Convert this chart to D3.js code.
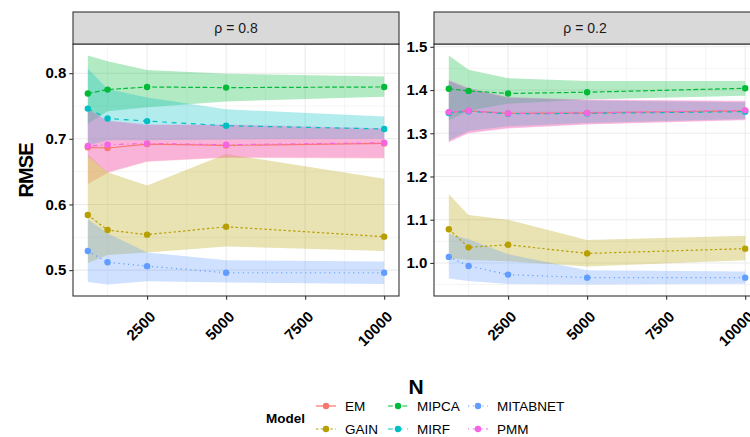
<!DOCTYPE html>
<html>
<head>
<meta charset="utf-8">
<script src="https://cdn.jsdelivr.net/npm/d3@7"></script>
<style>
  html, body { margin: 0; padding: 0; background: #fff; }
  svg { display: block; font-family: 'Liberation Sans', Arial, sans-serif; }
</style>
</head>
<body>
<svg id="chart"></svg>
<script>
'use strict'

// sample sizes and models
const sizes = [625, 1250, 2500, 5000, 10000]
const models = ['EM', 'GAIN', 'MIPCA', 'MIRF', 'MITABNET', 'PMM']
const xTicks = [2500, 5000, 7500, 10000]
const facets = ['ρ = 0.8', 'ρ = 0.2']

// rho = 0.8 : mean, lower and upper band (rows follow models)
const mean08 = [
  [0.687, 0.686, 0.692, 0.690, 0.693],
  [0.584, 0.561, 0.554, 0.566, 0.551],
  [0.769, 0.775, 0.779, 0.778, 0.779],
  [0.746, 0.731, 0.727, 0.720, 0.715],
  [0.529, 0.512, 0.506, 0.496, 0.496],
  [0.689, 0.691, 0.693, 0.691, 0.694]
]
const lo08 = [
  [0.631, 0.648, 0.665, 0.671, 0.670],
  [0.511, 0.523, 0.527, 0.536, 0.529],
  [0.723, 0.742, 0.748, 0.757, 0.764],
  [0.690, 0.698, 0.698, 0.699, 0.700],
  [0.482, 0.478, 0.483, 0.481, 0.479],
  [0.673, 0.649, 0.666, 0.672, 0.671]
]
const hi08 = [
  [0.744, 0.727, 0.721, 0.721, 0.715],
  [0.676, 0.649, 0.629, 0.677, 0.639],
  [0.827, 0.818, 0.805, 0.799, 0.795],
  [0.807, 0.776, 0.763, 0.745, 0.734],
  [0.577, 0.556, 0.527, 0.515, 0.513],
  [0.746, 0.728, 0.722, 0.722, 0.716]
]

// rho = 0.2
const mean02 = [
  [1.348, 1.352, 1.346, 1.347, 1.352],
  [1.078, 1.036, 1.042, 1.022, 1.033],
  [1.403, 1.398, 1.392, 1.395, 1.404],
  [1.347, 1.351, 1.345, 1.346, 1.350],
  [1.014, 0.993, 0.973, 0.966, 0.966],
  [1.349, 1.352, 1.346, 1.347, 1.353]
]
const lo02 = [
  [1.280, 1.301, 1.312, 1.321, 1.331],
  [1.011, 1.007, 1.004, 0.992, 1.006],
  [1.330, 1.352, 1.368, 1.378, 1.387],
  [1.283, 1.305, 1.316, 1.324, 1.333],
  [0.964, 0.958, 0.951, 0.950, 0.952],
  [1.279, 1.300, 1.311, 1.320, 1.330]
]
const hi02 = [
  [1.422, 1.404, 1.383, 1.377, 1.374],
  [1.159, 1.111, 1.100, 1.053, 1.063],
  [1.480, 1.447, 1.427, 1.421, 1.421],
  [1.420, 1.402, 1.382, 1.376, 1.372],
  [1.067, 1.055, 1.020, 0.983, 0.980],
  [1.423, 1.405, 1.384, 1.378, 1.375]
]

const width = 750
const height = 437
const plotTop = 44
const plotBottom = 296
const stripTop = 12
const panelX = [[73, 399], [434, 760]]
const series = [[mean08, lo08, hi08], [mean02, lo02, hi02]]
const font = "'Liberation Sans', Arial, sans-serif"

const color = d3.scaleOrdinal().domain(models)
  .range(['#F8766D', '#B79F00', '#00BA38', '#00BFC4', '#619CFF', '#F564E3'])
const dash = d3.scaleOrdinal().domain(models)
  .range(['none', '2.4,2.4', '4.8,2.4', '4.8,4.8', '1.2,3.6', '1.2,3.6,4.8,3.6'])

const svg = d3.select('#chart')
  .attr('width', width)
  .attr('height', height)
  .attr('viewBox', `0 0 ${width} ${height}`)

// ggplot-like expanded domain
function expand (lo, hi) {
  const pad = (hi - lo) * 0.05
  return [lo - pad, hi + pad]
}

function drawPanel (i) {
  const [mean, lo, hi] = series[i]
  const [x0, x1] = panelX[i]
  const x = d3.scaleLinear().domain(expand(d3.min(sizes), d3.max(sizes))).range([x0, x1])
  const y = d3.scaleLinear()
    .domain(expand(d3.min(lo.flat()), d3.max(hi.flat())))
    .range([plotBottom, plotTop])

  const g = svg.append('g')
  const clipId = `clip${i}`
  svg.append('clipPath').attr('id', clipId)
    .append('rect')
    .attr('x', x0).attr('y', plotTop)
    .attr('width', x1 - x0).attr('height', plotBottom - plotTop)

  // grid
  const yMajor = y.ticks(5)
  const yMinor = d3.ticks(y.domain()[0], y.domain()[1], 10).filter(v => !yMajor.some(m => Math.abs(m - v) < 1e-9))
  const xMinor = [0].concat(xTicks).slice(0, -1).map((v, k) => (v + xTicks[k]) / 2)
    .filter(v => v > x.domain()[0])
  const grid = g.append('g').attr('stroke', '#EBEBEB')
  grid.selectAll('.ymin').data(yMinor).enter().append('line')
    .attr('x1', x0).attr('x2', x1).attr('y1', d => y(d)).attr('y2', d => y(d))
    .attr('stroke-width', 0.55)
  grid.selectAll('.xmin').data(xMinor).enter().append('line')
    .attr('y1', plotTop).attr('y2', plotBottom).attr('x1', d => x(d)).attr('x2', d => x(d))
    .attr('stroke-width', 0.55)
  grid.selectAll('.ymaj').data(yMajor).enter().append('line')
    .attr('x1', x0).attr('x2', x1).attr('y1', d => y(d)).attr('y2', d => y(d))
    .attr('stroke-width', 1.1)
  grid.selectAll('.xmaj').data(xTicks).enter().append('line')
    .attr('y1', plotTop).attr('y2', plotBottom).attr('x1', d => x(d)).attr('x2', d => x(d))
    .attr('stroke-width', 1.1)

  const rows = models.map((m, k) => ({
    model: m,
    pts: sizes.map((n, j) => ({ n, v: mean[k][j], lo: lo[k][j], hi: hi[k][j] }))
  }))

  const layer = g.append('g').attr('clip-path', `url(#${clipId})`)
  const area = d3.area().x(d => x(d.n)).y0(d => y(d.lo)).y1(d => y(d.hi))
  const line = d3.line().x(d => x(d.n)).y(d => y(d.v))

  layer.selectAll('.band').data(rows).enter().append('path')
    .attr('d', d => area(d.pts))
    .attr('fill', d => color(d.model))
    .attr('fill-opacity', 0.3)

  layer.selectAll('.line').data(rows).enter().append('path')
    .attr('d', d => line(d.pts))
    .attr('fill', 'none')
    .attr('stroke', d => color(d.model))
    .attr('stroke-width', 1.2)
    .attr('stroke-dasharray', d => dash(d.model))

  layer.selectAll('.pts').data(rows).enter().append('g')
    .attr('fill', d => color(d.model))
    .selectAll('circle')
    .data(d => d.pts)
    .enter().append('circle')
    .attr('cx', d => x(d.n))
    .attr('cy', d => y(d.v))
    .attr('r', 3.2)

  // panel border
  g.append('rect')
    .attr('x', x0).attr('y', plotTop)
    .attr('width', x1 - x0).attr('height', plotBottom - plotTop)
    .attr('fill', 'none').attr('stroke', '#333').attr('stroke-width', 1.1)

  // strip
  g.append('rect')
    .attr('x', x0).attr('y', stripTop)
    .attr('width', x1 - x0).attr('height', plotTop - stripTop)
    .attr('fill', '#D9D9D9').attr('stroke', '#333').attr('stroke-width', 1.1)
  g.append('text')
    .attr('x', (x0 + x1) / 2 - (i ? 12 : 0))
    .attr('y', (stripTop + plotTop) / 2)
    .attr('dy', '0.35em')
    .attr('text-anchor', 'middle')
    .attr('font-size', 14)
    .attr('fill', '#1A1A1A')
    .text(facets[i])

  // axes
  const yAxis = d3.axisLeft(y).tickValues(yMajor).tickFormat(d3.format('.1f')).tickSize(3.7).tickPadding(3)
  const ya = g.append('g').attr('transform', `translate(${x0},0)`).call(yAxis)
  ya.select('.domain').remove()
  ya.selectAll('line').attr('stroke', '#333').attr('stroke-width', 1.1)
  ya.selectAll('text').attr('font-size', 15).attr('font-weight', 'bold').attr('fill', '#000')
    .attr('font-family', font)

  const xAxis = d3.axisBottom(x).tickValues(xTicks).tickFormat(d3.format('d')).tickSize(3.7)
  const xa = g.append('g').attr('transform', `translate(0,${plotBottom})`).call(xAxis)
  xa.select('.domain').remove()
  xa.selectAll('line').attr('stroke', '#333').attr('stroke-width', 1.1)
  xa.selectAll('text')
    .attr('font-size', 15).attr('font-weight', 'bold').attr('fill', '#000')
    .attr('font-family', font)
    .attr('text-anchor', 'end')
    .attr('transform', 'translate(5,18) rotate(-45)')
    .attr('dy', '0.35em')
    .attr('y', 0)
}

drawPanel(0)
drawPanel(1)

// axis titles
svg.append('text')
  .attr('transform', 'translate(33,170) rotate(-90)')
  .attr('text-anchor', 'middle')
  .attr('font-size', 20)
  .attr('font-weight', 'bold')
  .attr('textLength', 55)
  .text('RMSE')

svg.append('text')
  .attr('x', 416)
  .attr('y', 394)
  .attr('text-anchor', 'middle')
  .attr('font-size', 21)
  .attr('font-weight', 'bold')
  .text('N')

// legend
const legend = svg.append('g')
legend.append('text')
  .attr('x', 266).attr('y', 418).attr('dy', '0.35em')
  .attr('font-size', 13.5).attr('font-weight', 'bold')
  .text('Model')

const colX = [316, 388, 468]
const rowY = [406, 429]
const item = legend.selectAll('.item').data(models).enter().append('g')
  .attr('transform', (d, k) => `translate(${colX[Math.floor(k / 2)]},${rowY[k % 2]})`)
item.append('line')
  .attr('x1', 0).attr('x2', 20)
  .attr('stroke', d => color(d))
  .attr('stroke-width', 1.2)
  .attr('stroke-dasharray', d => dash(d))
item.append('circle').attr('cx', 10).attr('r', 3.2).attr('fill', d => color(d))
item.append('text')
  .attr('x', 29).attr('dy', '0.35em')
  .attr('font-size', 13.5)
  .attr('fill', '#000')
  .text(d => d)
</script>
</body>
</html>
